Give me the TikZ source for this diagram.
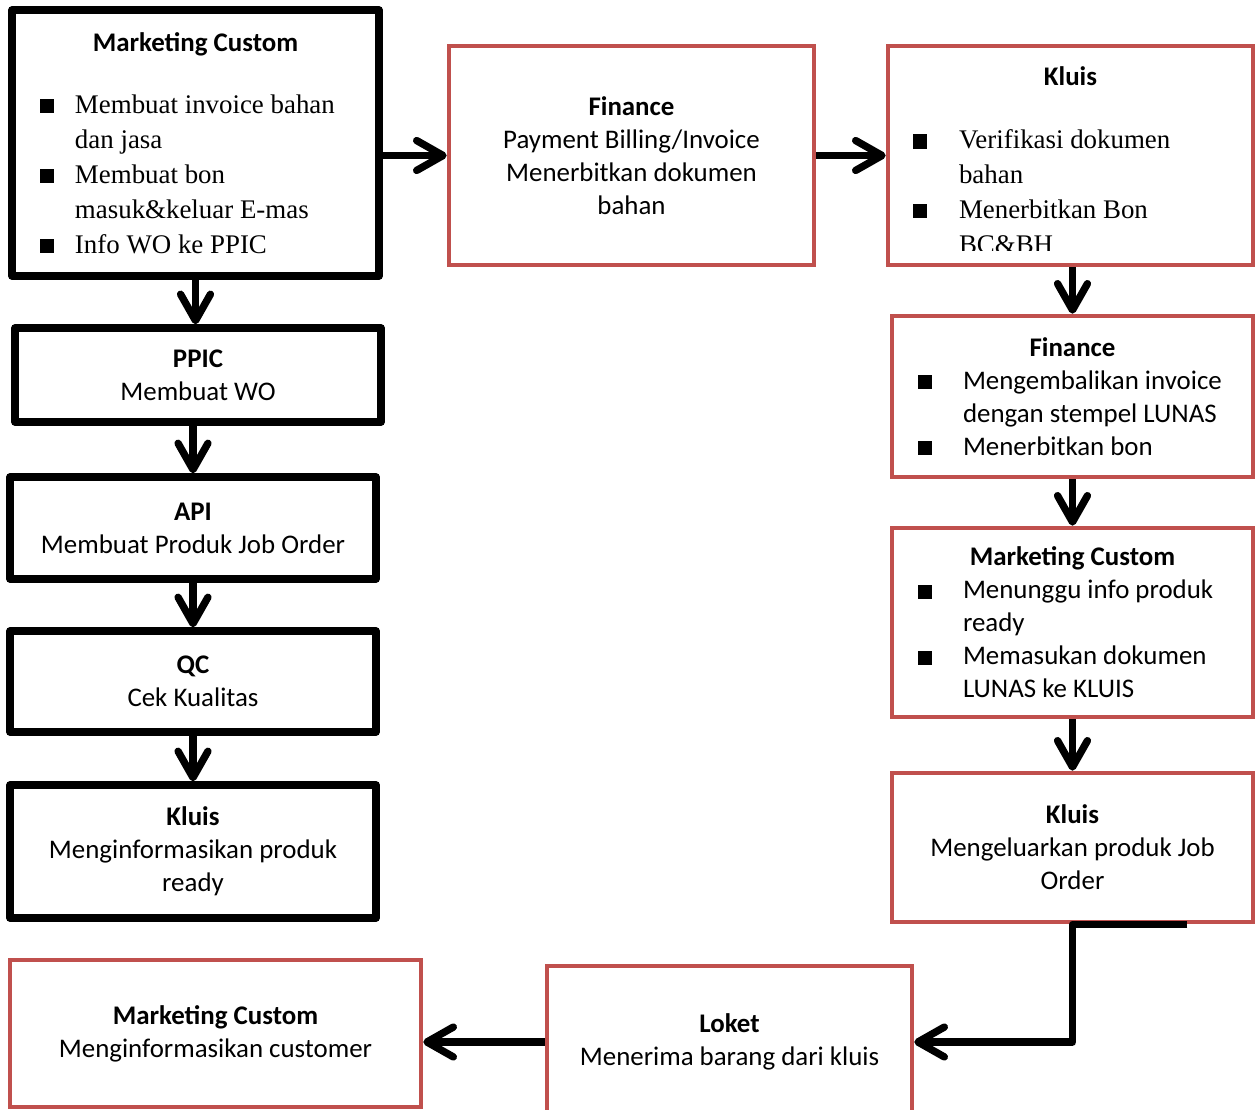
\documentclass[tikz,border=0pt]{standalone}
\usepackage{fontspec}
\setmainfont{Liberation Serif}
\newfontfamily\calfont{Carlito}
\usetikzlibrary{arrows.meta,positioning,calc}
\definecolor{boxred}{HTML}{C0504D}
\newcommand{\bodyfont}{\calfont\fontsize{15.3}{18.8}\selectfont}
\newcommand{\serfont}{\rmfamily\fontsize{15.3}{19.9}\selectfont}
\newcommand{\bitem}[2]{\par\hangindent=#1\hangafter=1\noindent\makebox[#1][l]{\rule{8pt}{8pt}}#2}

\begin{document}
\begin{tikzpicture}[
  blackbox/.style={draw=black,line width=4.2pt,line join=round,fill=white,inner sep=0pt,align=center,font=\bodyfont},
  redbox/.style={draw=boxred,line width=2.6pt,fill=white,inner sep=0pt,align=center,font=\bodyfont},
  flow/.style={line width=4.2pt,line join=round,-{Straight Barb[length=15pt,width=17pt,round]}}]
\useasboundingbox (0,0) rectangle (25.1,-22.2);

% left column
\node[blackbox,minimum width=7.34cm,minimum height=5.32cm,text width=7.34cm] (mc1) at (3.91,-2.86)
  {\parindent=0pt\spaceskip=0pt\xspaceskip=0pt\centering\bfseries Marketing Custom\par\vspace{15.4pt}\raggedright\mdseries\serfont\leftskip=0.56cm
   \bitem{0.70cm}{Membuat invoice bahan\newline dan jasa}\bitem{0.70cm}{Membuat bon\newline masuk\&keluar E-mas}\bitem{0.70cm}{Info WO ke PPIC}\par};
\node[blackbox,minimum width=7.32cm,minimum height=1.88cm] (ppic) at (3.96,-7.50) {\textbf{PPIC}\\Membuat WO};
\node[blackbox,minimum width=7.32cm,minimum height=2.04cm] (api) at (3.86,-10.56) {\textbf{API}\\Membuat Produk Job Order};
\node[blackbox,minimum width=7.32cm,minimum height=2.02cm] (qc) at (3.86,-13.63) {\textbf{QC}\\Cek Kualitas};
\node[blackbox,minimum width=7.32cm,minimum height=2.66cm] (kluis2) at (3.86,-17.03) {\textbf{Kluis}\\Menginformasikan produk\\ready};

% top row and right column
\node[redbox,minimum width=7.30cm,minimum height=4.38cm] (fin1) at (12.63,-3.11) {\textbf{Finance}\\Payment Billing/Invoice\\Menerbitkan dokumen\\bahan};
\node[redbox,minimum width=7.30cm,minimum height=4.38cm] (kluis1) at (21.41,-3.11) {};
\begin{scope}
\clip ([shift={(0.1,-0.1)}]kluis1.north west) rectangle ([shift={(-0.1,0.34)}]kluis1.south east);
\node[anchor=north,text width=7.30cm,inner sep=0pt,font=\bodyfont] (kluis1txt) at ([yshift=-0.45cm]kluis1.north)
  {\parindent=0pt\spaceskip=0pt\xspaceskip=0pt\centering\bfseries Kluis\par\vspace{16pt}\raggedright\mdseries\serfont\leftskip=0.50cm
   \bitem{0.92cm}{Verifikasi dokumen\newline bahan}\bitem{0.92cm}{Menerbitkan Bon\newline BC\&BH}\par};
\end{scope}
\node[redbox,minimum width=7.22cm,minimum height=3.22cm,text width=7.22cm] (fin2) at (21.45,-7.93)
  {\parindent=0pt\spaceskip=0pt\xspaceskip=0pt\centering\bfseries Finance\par\raggedright\mdseries\leftskip=0.52cm
   \bitem{0.90cm}{Mengembalikan invoice\newline dengan stempel LUNAS}\bitem{0.90cm}{Menerbitkan bon}\par};
\node[redbox,minimum width=7.22cm,minimum height=3.78cm,text width=7.22cm] (mc2) at (21.45,-12.45)
  {\parindent=0pt\spaceskip=0pt\xspaceskip=0pt\centering\bfseries Marketing Custom\par\raggedright\mdseries\leftskip=0.52cm
   \bitem{0.90cm}{Menunggu info produk\newline ready}\bitem{0.90cm}{Memasukan dokumen\newline LUNAS ke KLUIS}\par};
\node[redbox,minimum width=7.22cm,minimum height=2.98cm] (kluis3) at (21.45,-16.95) {\textbf{Kluis}\\Mengeluarkan produk Job\\Order};

% bottom row
\node[redbox,minimum width=7.30cm,minimum height=3.04cm] (loket) at (14.59,-20.84) {\textbf{Loket}\\Menerima barang dari kluis};
\node[redbox,minimum width=8.22cm,minimum height=2.94cm] (mc3) at (4.31,-20.67) {\textbf{Marketing Custom}\\Menginformasikan customer};

\draw[flow] (mc1.east |- fin1.west) -- (fin1.west);
\draw[flow] (fin1.east) -- (kluis1.west);
\draw[flow] (mc1.south) -- (mc1.south |- ppic.north);
\draw[flow] (ppic.south -| api.north) -- (api.north);
\draw[flow] (api.south) -- (qc.north);
\draw[flow] (qc.south) -- (kluis2.north);
\draw[flow] (kluis1.south -| fin2.north) -- (fin2.north);
\draw[flow] (fin2.south) -- (mc2.north);
\draw[flow] (mc2.south) -- (kluis3.north);
\coordinate (kout) at ($(kluis3.south east)+(-1.36,0)$);
\draw[flow] (kout) -- (kluis3.south) |- (loket.east);
\draw[flow] (loket.west) -- (loket.west -| mc3.east);
\end{tikzpicture}
\end{document}
